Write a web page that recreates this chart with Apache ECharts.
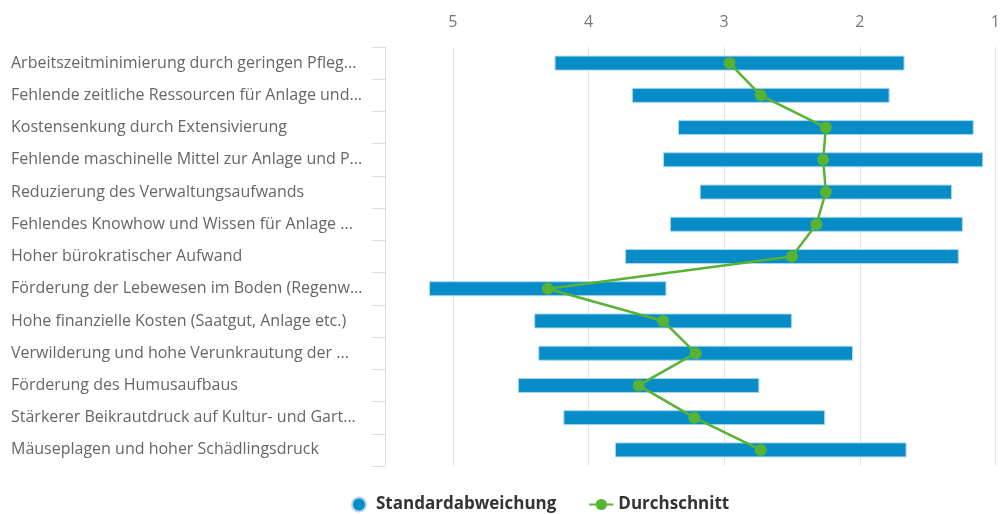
<!DOCTYPE html>
<html>
<head>
<meta charset="utf-8">
<script src="https://cdn.jsdelivr.net/npm/echarts@6/dist/echarts.min.js"></script>
<style>
  html, body { margin: 0; padding: 0; background: #fff; }
  #chart { width: 1003px; height: 514px; }
</style>
</head>
<body>
<div id="chart"></div>
<script>
// Farben
const COLORS = {
  bar: '#078cc7',
  barBorder: '#a9d8ef',
  line: '#58b332',
  text: '#666666',
  axisText: '#777777',
  legend: '#333333',
  grid: '#e3e3e3'
};

// Kategorien (so wie im Bild abgeschnitten)
const categories = [
  'Arbeitszeitminimierung durch geringen Pfleg...',
  'Fehlende zeitliche Ressourcen für Anlage und...',
  'Kostensenkung durch Extensivierung',
  'Fehlende maschinelle Mittel zur Anlage und P...',
  'Reduzierung des Verwaltungsaufwands',
  'Fehlendes Knowhow und Wissen für Anlage ...',
  'Hoher bürokratischer Aufwand',
  'Förderung der Lebewesen im Boden (Regenw...',
  'Hohe finanzielle Kosten (Saatgut, Anlage etc.)',
  'Verwilderung und hohe Verunkrautung der ...',
  'Förderung des Humusaufbaus',
  'Stärkerer Beikrautdruck auf Kultur- und Gart...',
  'Mäuseplagen und hoher Schädlingsdruck'
];

// Durchschnitt
const means = [2.96, 2.73, 2.25, 2.27, 2.25, 2.32, 2.50, 4.30, 3.45, 3.21, 3.63, 3.22, 2.73];

// Standardabweichung
const sds = [1.29, 0.95, 1.09, 1.18, 0.93, 1.08, 1.23, 0.875, 0.95, 1.16, 0.89, 0.965, 1.075];

// Balken von (Mittel - SD) bis (Mittel + SD)
const barBase = means.map((m, i) => +(m - sds[i]).toFixed(3));
const barSpan = sds.map(s => +(2 * s).toFixed(3));

const chart = echarts.init(document.getElementById('chart'));

const option = {
  animation: false,
  textStyle: { fontFamily: 'Open Sans' },
  grid: { left: 385, right: 4, top: 47, bottom: 48 },
  legend: {
    top: 491,
    left: 346,
    itemGap: 32,
    itemWidth: 24,
    itemHeight: 14,
    textStyle: { color: COLORS.legend, fontSize: 17, fontWeight: 'bold', fontFamily: 'Open Sans' },
    data: [
      { name: 'Standardabweichung', icon: 'circle' },
      { name: 'Durchschnitt' }
    ]
  },
  xAxis: {
    type: 'value',
    position: 'top',
    inverse: true,
    min: 1,
    max: 5.5,
    interval: 1,
    axisLine: { show: false },
    axisTick: { show: false },
    axisLabel: {
      color: COLORS.axisText,
      fontSize: 16,
      margin: 17,
      showMaxLabel: false
    },
    splitLine: { lineStyle: { color: COLORS.grid, width: 1 } }
  },
  yAxis: {
    type: 'category',
    inverse: true,
    data: categories,
    axisLine: { show: true, lineStyle: { color: '#dcdcdc' } },
    axisTick: { show: true, length: 13, lineStyle: { color: '#dcdcdc' } },
    axisLabel: {
      color: COLORS.text,
      fontSize: 16,
      align: 'left',
      margin: 374
    }
  },
  series: [
    {
      name: 'basis',
      type: 'bar',
      stack: 'sd',
      silent: true,
      barWidth: 15,
      itemStyle: { color: 'transparent' },
      data: barBase
    },
    {
      name: 'Standardabweichung',
      type: 'bar',
      stack: 'sd',
      barWidth: 15,
      itemStyle: {
        color: COLORS.bar,
        borderColor: COLORS.barBorder,
        borderWidth: 1
      },
      data: barSpan
    },
    {
      name: 'Durchschnitt',
      type: 'line',
      data: means,
      symbol: 'circle',
      symbolSize: 12,
      itemStyle: { color: COLORS.line },
      lineStyle: { color: COLORS.line, width: 2.5 },
      z: 5
    }
  ]
};

chart.setOption(option);
</script>
</body>
</html>
